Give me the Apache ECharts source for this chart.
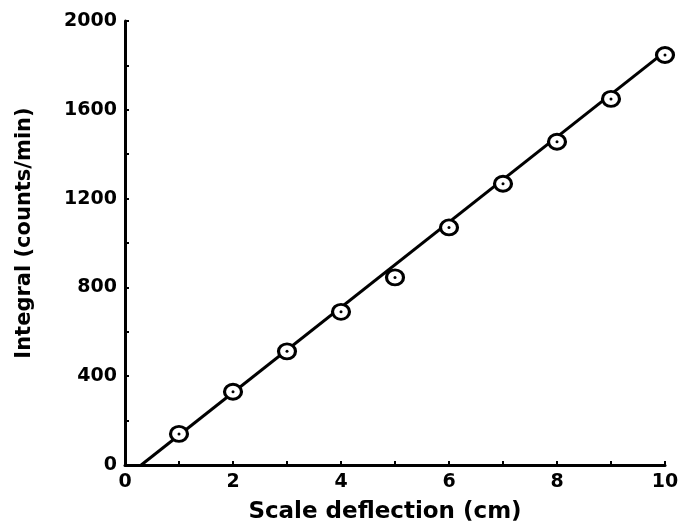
<!DOCTYPE html>
<html>
<head>
<meta charset="utf-8">
<script src="https://cdn.jsdelivr.net/npm/echarts@6/dist/echarts.min.js"></script>
<style>
  html, body { margin: 0; padding: 0; background: #fff; }
  #chart { width: 678px; height: 526px; }
</style>
</head>
<body>
<div id="chart"></div>
<script>
// scale deflection (cm) vs integral (counts/min)
var deflection = [1, 2, 3, 4, 5, 6, 7, 8, 9, 10];
var integral = [140, 330, 512, 690, 845, 1070, 1267, 1456, 1649, 1847];
// fitted straight line, two end points
var fitX = [0.3, 10.2];
var fitY = [0, 1900];

var font = "DejaVu Sans";
var points = deflection.map(function (x, i) { return [x, integral[i]]; });
var fitLine = fitX.map(function (x, i) { return [x, fitY[i]]; });

var chart = echarts.init(document.getElementById("chart"));
chart.setOption({
    animation: false,
    backgroundColor: "#fff",
    grid: { left: 125, right: 13, top: 21, bottom: 61, containLabel: false, outerBoundsMode: "none" },
    xAxis: {
        type: "value",
        min: 0,
        max: 10,
        interval: 2,
        name: "Scale deflection (cm)",
        nameLocation: "middle",
        nameGap: 36,
        nameTextStyle: { fontFamily: font, fontWeight: "bold", fontSize: 23, color: "#000", padding: [0, 20, 0, 0] },
        axisLine: { lineStyle: { color: "#000", width: 3 } },
        axisTick: { inside: true, length: 4, lineStyle: { color: "#000", width: 2 } },
        minorTick: { show: true, splitNumber: 2, length: 4, lineStyle: { color: "#000", width: 2 } },
        axisLabel: { fontFamily: font, fontWeight: "bold", fontSize: 19, color: "#000", margin: 8,
            formatter: function (v) { return String(v); } },
        splitLine: { show: false }
    },
    yAxis: {
        type: "value",
        min: 0,
        max: 2000,
        interval: 400,
        name: "Integral (counts/min)",
        nameLocation: "middle",
        nameGap: 90,
        nameTextStyle: { fontFamily: font, fontWeight: "bold", fontSize: 21, color: "#000", padding: [0, 0, 0, 20] },
        axisLine: { show: true, lineStyle: { color: "#000", width: 3 } },
        axisTick: { show: true, inside: true, length: 4, lineStyle: { color: "#000", width: 2 } },
        minorTick: { show: true, splitNumber: 2, length: 4, lineStyle: { color: "#000", width: 2 } },
        axisLabel: { fontFamily: font, fontWeight: "bold", fontSize: 19, color: "#000", margin: 8,
            formatter: function (v) { return String(v); } },
        splitLine: { show: false }
    },
    series: [
        {
            type: "line",
            data: fitLine,
            symbol: "none",
            clip: false,
            lineStyle: { color: "#000", width: 3 },
            z: 1
        },
        {
            type: "scatter",
            data: points,
            symbol: "circle",
            symbolSize: [17, 15],
            itemStyle: { color: "#fff", borderColor: "#000", borderWidth: 3, opacity: 1 },
            z: 2
        },
        {
            type: "scatter",
            data: points,
            symbol: "circle",
            symbolSize: 3,
            itemStyle: { color: "#000", opacity: 1 },
            z: 3
        }
    ]
});
</script>
</body>
</html>
